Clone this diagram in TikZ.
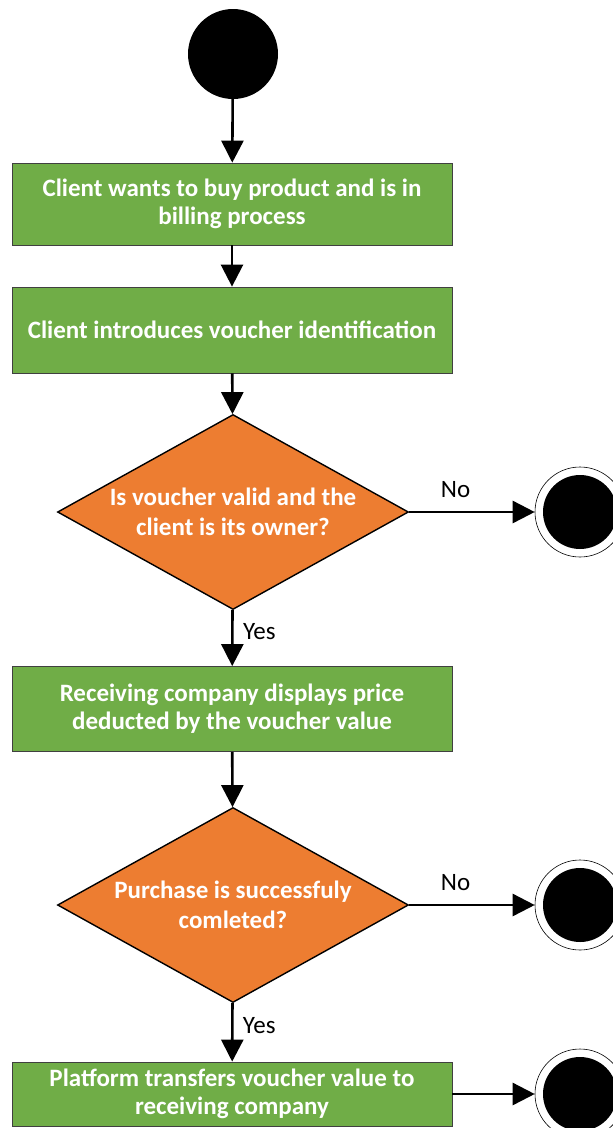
\documentclass[tikz,border=0pt]{standalone}
\usepackage{fontspec}
\setmainfont{Carlito}
\usepackage{tikz}
\usetikzlibrary{arrows.meta}
\usetikzlibrary{shapes.geometric}
\usetikzlibrary{positioning}

\definecolor{boxgreen}{HTML}{70AD47}
\definecolor{decorange}{HTML}{ED7D31}

\tikzset{
  startnode/.style={circle,fill=black,minimum size=90pt,inner sep=0pt},
  endnode/.style={circle,draw=black,line width=0.6pt,fill=white,minimum size=90pt,inner sep=0pt,
    path picture={\fill[black] (path picture bounding box.center) circle (37pt);}},
  actbox/.style={rectangle,draw=black!75,line width=0.8pt,fill=boxgreen,text=white,
    font=\fontsize{25}{28}\selectfont\bfseries,align=center,minimum width=440pt,inner sep=0pt},
  decbox/.style={diamond,draw=black,line width=1.4pt,fill=decorange,text=white,
    font=\fontsize{25}{30}\selectfont\bfseries,align=center,aspect=1.8,
    minimum width=351pt,minimum height=195pt,inner sep=0pt},
  flow/.style={line width=2.6pt,-{Triangle[length=22pt,width=22pt]}},
  lbl/.style={font=\fontsize{25}{28}\selectfont,text=black}
}

\begin{document}
\begin{tikzpicture}
	[x=1pt,y=-1pt]
	\useasboundingbox (0,0) rectangle (613,1128);
	\node[startnode] (n1) at (233,54) {};
	\node[actbox,minimum height=82pt] (n2) at (232,204) {Client wants to buy product and is in\\billing process};
	\node[actbox,minimum height=86pt] (n3) at (232,330) {Client introduces voucher identification};
	\node[decbox] (n4) at (233,512) {Is voucher valid and the\\client is its owner?};
	\node[endnode] (n5) at (580,512) {};
	\node[actbox,minimum height=85pt] (n6) at (232,709) {Receiving company displays price\\deducted by the voucher value};
	\node[decbox] (n7) at (233,905) {Purchase is successfuly\\comleted?};
	\node[endnode] (n8) at (580,905) {};
	\node[actbox,minimum height=64pt] (n9) at (232,1094) {Platform transfers voucher value to\\receiving company};
	\node[endnode] (n10) at (580,1094) {};
	
	\foreach \from/\to in 
	{n1/n2, n2/n3, n3/n4, n6/n7, n9/n10}
	\draw[flow] (\from) -- (\to);
	\draw[flow] (n4) -- node[lbl,right=6pt,pos=0.38] {Yes} (n6);
	\draw[flow] (n7) -- node[lbl,right=6pt,pos=0.38] {Yes} (n9);
	\draw[flow] (n4) -- node[lbl,above=10pt,pos=0.37] {No} (n5);
	\draw[flow] (n7) -- node[lbl,above=10pt,pos=0.37] {No} (n8);
	\end{tikzpicture}
\end{document}
